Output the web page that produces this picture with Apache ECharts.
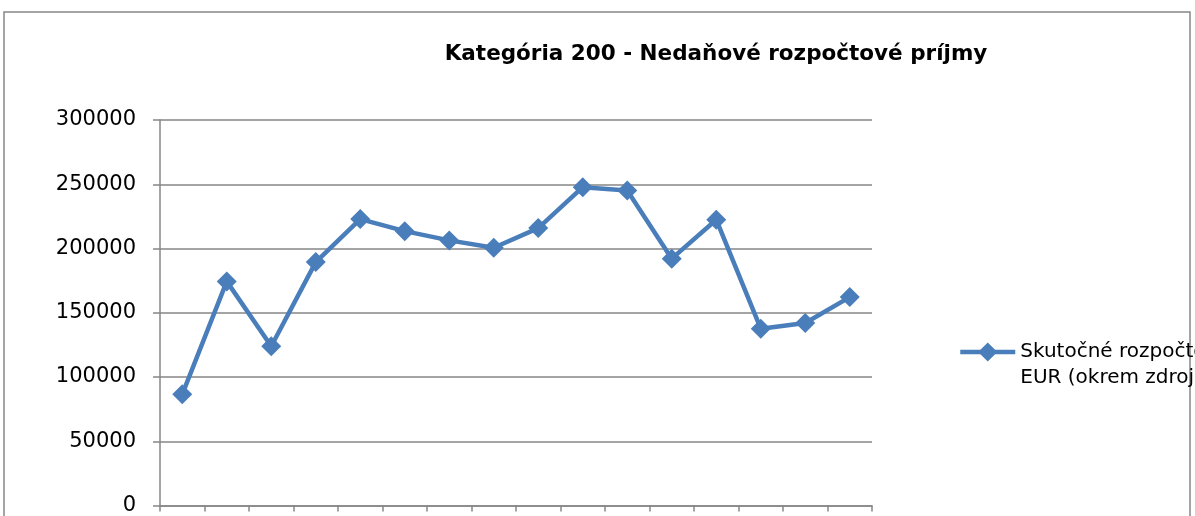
<!DOCTYPE html>
<html>
<head>
<meta charset="utf-8">
<title>Kategória 200</title>
<script src="https://cdn.jsdelivr.net/npm/echarts@6/dist/echarts.min.js"></script>
<style>
  html, body { margin: 0; padding: 0; background: #fff; }
  #chart { width: 1195px; height: 516px; }
</style>
</head>
<body>
<div id="chart"></div>
<script>
// kategorie (popisky su mimo obrazka, preto su skryte)
const categories = ['1', '2', '3', '4', '5', '6', '7', '8', '9', '10', '11', '12', '13', '14', '15', '16']
const prijmy = [86500, 174400, 123900, 189400, 222900, 213500, 206300, 200600,
  215900, 247700, 245200, 192100, 222400, 137600, 142000, 162200]
const seriesName = 'Skutočné rozpočtové príjmy v\nEUR (okrem zdroja 41)'
const yTicks = [0, 50000, 100000, 150000, 200000, 250000, 300000]

const font = 'DejaVu Sans'
const gray = '#868686'
const blue = '#4a7ebb'

const myChart = echarts.init(document.getElementById('chart'))
const option = {
  animation: false,
  textStyle: { fontFamily: font },
  title: {
    text: 'Kategória 200 - Nedaňové rozpočtové príjmy',
    left: 711,
    top: 38,
    textAlign: 'center',
    textStyle: { fontFamily: font, fontSize: 21.5, fontWeight: 'bold', color: '#000' }
  },
  legend: {
    data: [seriesName],
    left: 958,
    top: 313,
    padding: 0,
    itemWidth: 55,
    itemHeight: 24,
    itemGap: 0,
    lineStyle: { width: 4.5 },
    // prazdny prvy riadok, aby ikona stala pri prvom riadku textu
    formatter: name => '\n' + name,
    textStyle: { fontFamily: font, fontSize: 20, color: '#000', lineHeight: 26 }
  },
  graphic: [{
    type: 'rect',
    shape: { x: 4, y: 12, width: 1186, height: 520 },
    style: { fill: 'none', stroke: gray, lineWidth: 1.5 },
    silent: true
  }],
  grid: { left: 160, right: 323, top: 120, bottom: 10.5 },
  xAxis: {
    type: 'category',
    data: categories,
    boundaryGap: true,
    axisLine: { lineStyle: { color: gray, width: 1.5 } },
    axisTick: { show: true, inside: false, length: 6, lineStyle: { color: gray, width: 1.5 } },
    axisLabel: { show: false },
    splitLine: { show: false }
  },
  yAxis: {
    type: 'value',
    min: yTicks[0],
    max: yTicks[yTicks.length - 1],
    interval: yTicks[1] - yTicks[0],
    axisLine: { show: true, lineStyle: { color: gray, width: 1.5 } },
    axisTick: { show: true, inside: false, length: 7, lineStyle: { color: gray, width: 1.5 } },
    axisLabel: { margin: 24, fontFamily: font, fontSize: 21, color: '#000', formatter: v => String(v) },
    splitLine: { show: true, lineStyle: { color: gray, width: 1.5 } }
  },
  series: [{
    name: seriesName,
    type: 'line',
    data: prijmy,
    symbol: 'diamond',
    symbolSize: 20,
    lineStyle: { color: blue, width: 4.5 },
    itemStyle: { color: blue },
    emphasis: { disabled: true }
  }]
}
myChart.setOption(option)
</script>
</body>
</html>
